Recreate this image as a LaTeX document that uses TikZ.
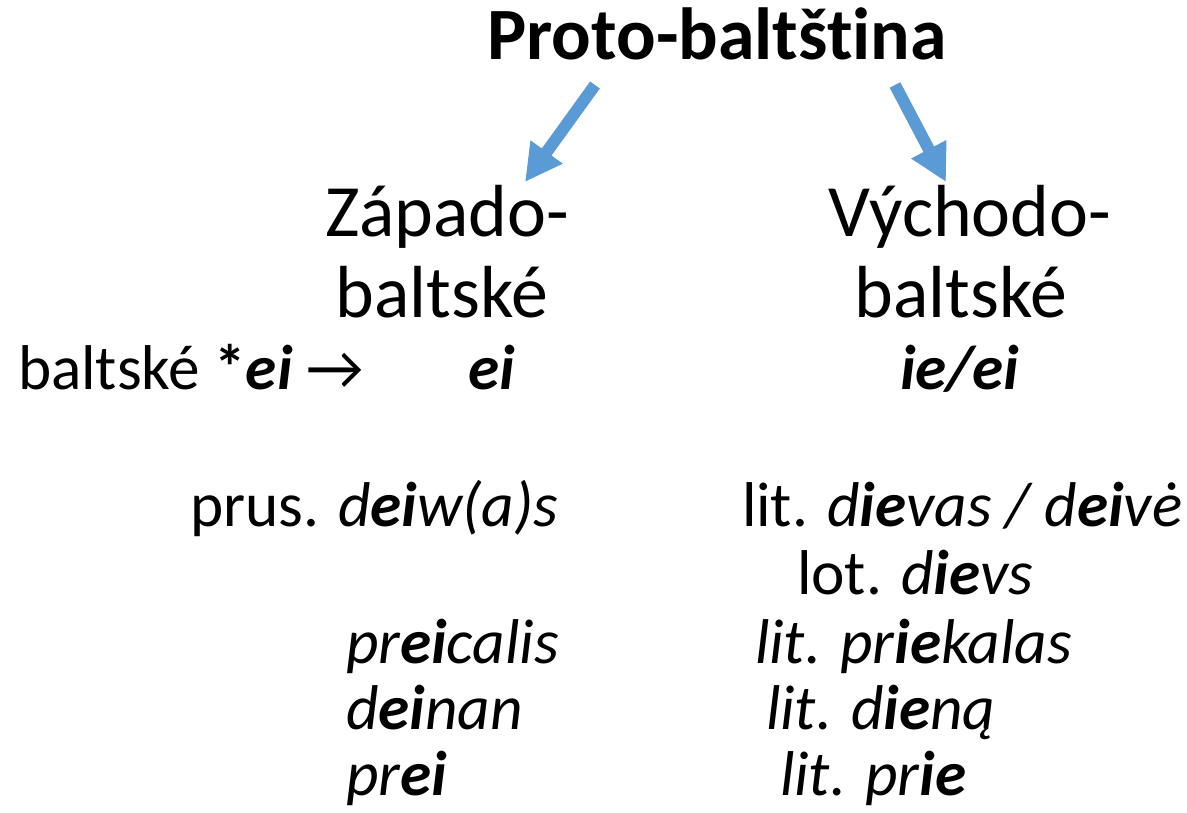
\documentclass[tikz,border=0pt]{standalone}
\usepackage{fontspec}
\setmainfont{Carlito}[Ligatures=NoCommon]
\usetikzlibrary{positioning, arrows.meta}
\definecolor{branchblue}{HTML}{5B9BD5}

\begin{document}
\begin{tikzpicture}[x=0.02cm, y=-0.02cm,
	every node/.style={inner sep=0pt, outer sep=0pt},
	title/.style={font=\fontsize{42}{50}\selectfont\bfseries, anchor=base},
	group/.style={font=\fontsize{42}{50}\selectfont, anchor=base},
	word/.style={font=\fontsize{36}{43}\selectfont, anchor=base west},
	branch/.style={draw=branchblue, line width=0.24cm, -{Triangle[length=0.74cm, width=0.74cm]}}]

	\useasboundingbox (0,0) rectangle (1187,813);

	\node [title] (proto) at (717,60) {Proto-baltština};

	\node [group] (west-1) at (447,237) {Západo-};
	\node [group] (west-2) at (442,318) {baltské};
	\node [group] (east-1) at (970,237) {Východo-};
	\node [group] (east-2) at (961,318) {baltské};

	\coordinate (west-from) at (595,85);
	\coordinate (west-to) at (525,182);
	\coordinate (east-from) at (895,85);
	\coordinate (east-to) at (946,182);

	\draw [branch] (west-from) -- (west-to);
	\draw [branch] (east-from) -- (east-to);

	\node [word] (rule) at (18,390) {baltské \textbf{*\textit{ei}} →};
	\node [word] (west-ei) at (468,390) {\textbf{\textit{ei}}};
	\node [word] (east-ei) at (900,390) {\textbf{\textit{ie/ei}}};

	\node [word] (west-god) at (190,527) {prus. \textit{d\textbf{ei}w(a)s}};
	\node [word] (east-god) at (742,527) {lit. \textit{d\textbf{ie}vas / d\textbf{ei}vė}};
	\node [word] (east-lot) at (797,595) {lot. \textit{d\textbf{ie}vs}};

	\foreach \m/\y [count=\i] in {pr\textbf{ei}calis/664, d\textbf{ei}nan/730, pr\textbf{ei}/796}
		\node [word] (west-\i) at (346,\y) {\textit{\m}};

	\foreach \m/\x/\y [count=\i] in {pr\textbf{ie}kalas/755/664, d\textbf{ie}ną/766/730, pr\textbf{ie}/780/796}
		\node [word] (east-\i) at (\x,\y) {\textit{lit. \m}};

\end{tikzpicture}
\end{document}
